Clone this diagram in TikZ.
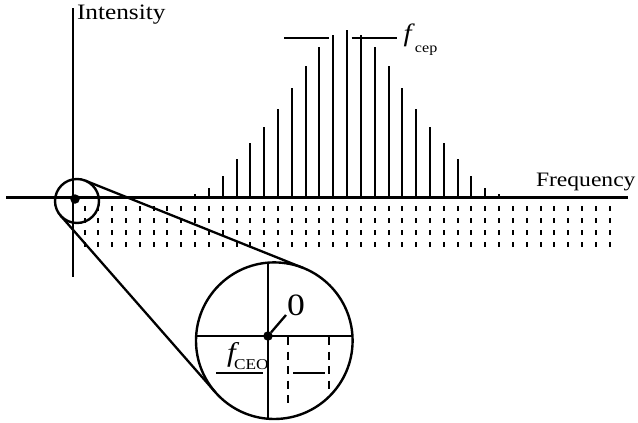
\documentclass[tikz,border=0pt]{standalone}
\usepackage{fontspec}
\setmainfont{Liberation Serif}[FakeStretch=1.15]
\begin{document}
\begin{tikzpicture}[x=1pt,y=-1pt,
  axisline/.style={line width=3pt},
  combline/.style={line width=2pt},
  griddash/.style={line width=2pt},
  thinline/.style={line width=2.3pt},
  ring/.style={circle,draw,line width=2.4pt,inner sep=0pt,outer sep=0pt},
  blob/.style={circle,fill,inner sep=0pt,outer sep=0pt,minimum size=9.5pt},
  lbl/.style={inner sep=0pt,outer sep=0pt,anchor=base west}]
\useasboundingbox (0,0) rectangle (638,423);
% axes
\coordinate (xl) at (6,197.5);
\coordinate (xr) at (628,197.5);
\coordinate (yt) at (73,8);
\coordinate (yb) at (73,277);
\draw[axisline] (xl) -- (xr);
\draw[line width=2pt] (yt) -- (yb);
% dotted grid below axis
\foreach \k [evaluate=\k as \xx using {round(84.5+13.82*\k)}] in {0,...,38}{
  \foreach \r in {0,...,3}{
    \draw[griddash] (\xx,{206+12*\r}) -- ++(0,4.8);
  }
}
% comb lines
\foreach \d/\h [evaluate=\d as \xa using {round(347.1+13.82*\d)}, evaluate=\d as \xb using {round(347.1-13.82*\d)}] in {0/168,1/163,2/150.7,3/132,4/109.7,5/88.7,6/70.7,7/54.7,8/38.7,9/21.3,10/9.3,11/4,12/2}{
  \draw[combline] (\xa,197.5) -- ++(0,-\h);
  \draw[combline] (\xb,197.5) -- ++(0,-\h);
}
% f_cep marker
\coordinate (ca) at (284,38);
\coordinate (cb) at (329.3,38);
\coordinate (cc) at (351.7,38);
\coordinate (cd) at (396.7,38);
\draw[line width=2pt] (ca) -- (cb);
\draw[line width=2pt] (cc) -- (cd);
\node[lbl] (fcep) at (403.5,41.7) {{\fontsize{25}{25}\selectfont\itshape f}\kern3.5pt{\fontsize{14}{14}\selectfont\raisebox{-10.6pt}{cep}}};
% labels
\node[lbl] (int) at (77,19.5) {\fontsize{22}{22}\selectfont Intensity};
\node[lbl] (freq) at (536,186) {\fontsize{20.5}{20.5}\selectfont Frequency};
% small circle and origin
\node[ring,minimum size=44pt] (c1) at (77,201) {};
\node[blob] (o1) at (75,199) {};
% big circle
\node[ring,minimum size=156.6pt] (c2) at (274.3,340.7) {};
\draw[thinline] (c1.68) -- (c2.68);
\draw[thinline] (c1.221) -- (c2.221);
% cross in big circle
\coordinate (vt) at (268,262.7);
\coordinate (vb) at (268,418.7);
\coordinate (hl) at (196.2,336);
\coordinate (hr) at (352.4,336);
\draw[line width=2pt] (vt) -- (vb);
\draw[line width=2pt] (hl) -- (hr);
\node[blob] (o2) at (268,336) {};
\coordinate (zt) at (286,315);
\draw[thinline] (o2) -- (zt);
\node[lbl] (zero) at (287,315.7) {\fontsize{31}{31}\selectfont 0};
% f_CEO
\node[lbl] (fceo) at (227,361.5) {{\fontsize{27}{27}\selectfont\itshape f}\kern-1.5pt{\fontsize{15}{15}\selectfont\raisebox{-7.5pt}{CEO}}};
\coordinate (ul) at (216,373);
\coordinate (ur) at (262.7,373);
\draw[line width=2pt] (ul) -- (ur);
\coordinate (ml) at (293.3,373);
\coordinate (mr) at (325,373);
\draw[line width=2pt] (ml) -- (mr);
\coordinate (da) at (288,336);
\coordinate (db) at (288,406.7);
\coordinate (dc) at (329,336);
\coordinate (dd) at (329,394);
\draw[line width=2pt,dash pattern=on 8pt off 6.5pt,dash phase=-1pt] (da) -- (db);
\draw[line width=2pt,dash pattern=on 8pt off 6.5pt,dash phase=-1pt] (dc) -- (dd);
\end{tikzpicture}
\end{document}
